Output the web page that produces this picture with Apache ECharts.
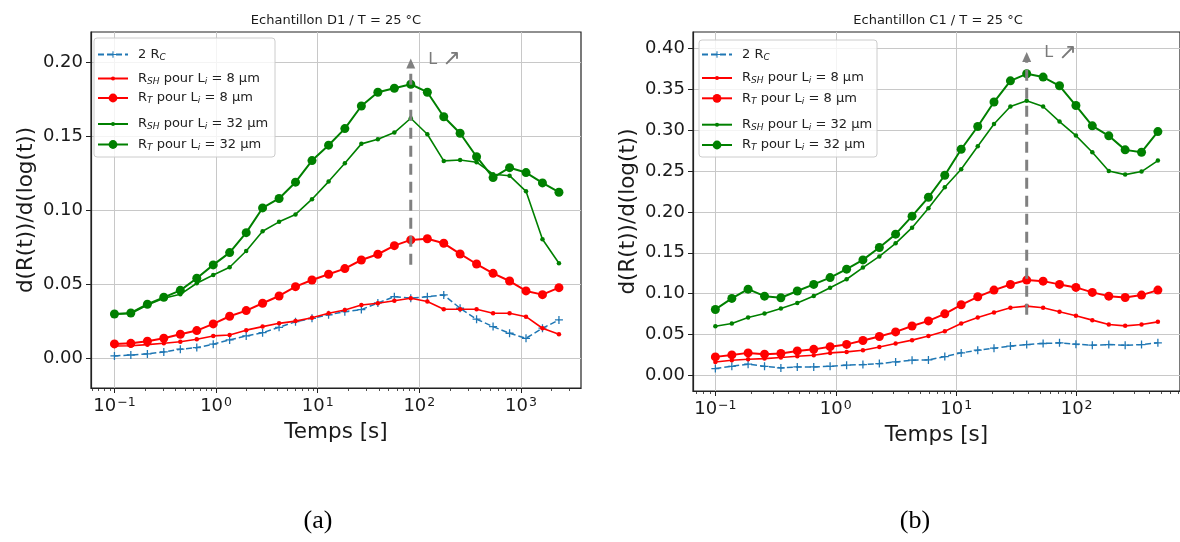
<!DOCTYPE html>
<html>
<head>
<meta charset="utf-8">
<script src="https://cdn.jsdelivr.net/npm/echarts@6/dist/echarts.min.js"></script>
<style>
html,body{margin:0;padding:0;background:#fff;}
#chart{width:1180px;height:542px;}
</style>
</head>
<body>
<div id="chart"></div>
<script>
// ---------------- DATA ----------------
// Sample D1 (a)
const tD1 = [0.1, 0.145, 0.211, 0.306, 0.445, 0.646, 0.938, 1.36, 1.98, 2.87, 4.17, 6.05, 8.79, 12.8, 18.5, 26.9, 39.1, 56.8, 82.4, 120, 174, 252, 366, 532, 773, 1122, 1629, 2366];
const rc2D1   = [0.0014, 0.0020, 0.0027, 0.0041, 0.0059, 0.0070, 0.0093, 0.0122, 0.0149, 0.0171, 0.0207, 0.0245, 0.0268, 0.0292, 0.0313, 0.0327, 0.0372, 0.0414, 0.0404, 0.0414, 0.0426, 0.0336, 0.0262, 0.0212, 0.0167, 0.0133, 0.0201, 0.0257];
const rsh8D1  = [0.0081, 0.0083, 0.0090, 0.0099, 0.0110, 0.0126, 0.0149, 0.0155, 0.0188, 0.0212, 0.0234, 0.0249, 0.0272, 0.0302, 0.0324, 0.0358, 0.0370, 0.0387, 0.0404, 0.0381, 0.0329, 0.0329, 0.0329, 0.0302, 0.0302, 0.0279, 0.0201, 0.0160];
const rt8D1   = [0.0095, 0.0099, 0.0113, 0.0133, 0.0160, 0.0185, 0.0230, 0.0282, 0.0320, 0.0370, 0.0419, 0.0482, 0.0527, 0.0566, 0.0604, 0.0662, 0.0701, 0.0759, 0.0798, 0.0806, 0.0775, 0.0703, 0.0635, 0.0572, 0.0520, 0.0453, 0.0428, 0.0475];
const rsh32D1 = [0.0295, 0.0300, 0.0358, 0.0403, 0.0430, 0.0505, 0.0561, 0.0613, 0.0723, 0.0856, 0.0920, 0.0970, 0.1073, 0.1192, 0.1316, 0.1447, 0.1478, 0.1523, 0.1620, 0.1512, 0.1332, 0.1338, 0.1323, 0.1242, 0.1232, 0.1126, 0.0802, 0.0640];
const rt32D1  = [0.0297, 0.0304, 0.0363, 0.0410, 0.0457, 0.0539, 0.0629, 0.0712, 0.0847, 0.1014, 0.1078, 0.1188, 0.1334, 0.1438, 0.1550, 0.1703, 0.1796, 0.1823, 0.1850, 0.1796, 0.1630, 0.1519, 0.1360, 0.1219, 0.1286, 0.1253, 0.1183, 0.1120];
const arrowD1 = {t: 82.4, from: 0.063, to: 0.199};

// Sample C1 (b)
const tC1 = [0.1, 0.137, 0.187, 0.256, 0.350, 0.479, 0.656, 0.897, 1.23, 1.68, 2.30, 3.14, 4.30, 5.88, 8.04, 11.0, 15.1, 20.6, 28.2, 38.5, 52.7, 72.1, 98.7, 135, 185, 253, 346, 473];
const rc2C1   = [0.0082, 0.0110, 0.0135, 0.0110, 0.0090, 0.0102, 0.0102, 0.0110, 0.0123, 0.0131, 0.0143, 0.0163, 0.0184, 0.0188, 0.0229, 0.0274, 0.0307, 0.0331, 0.0358, 0.0376, 0.0389, 0.0397, 0.0380, 0.0368, 0.0376, 0.0368, 0.0376, 0.0397];
const rsh8C1  = [0.0163, 0.0184, 0.0196, 0.0204, 0.0217, 0.0233, 0.0245, 0.0274, 0.0286, 0.0307, 0.0347, 0.0390, 0.0430, 0.0480, 0.0540, 0.0634, 0.0708, 0.0769, 0.0826, 0.0847, 0.0826, 0.0777, 0.0728, 0.0675, 0.0622, 0.0605, 0.0622, 0.0654];
const rt8C1   = [0.0225, 0.0249, 0.0274, 0.0258, 0.0266, 0.0298, 0.0317, 0.0350, 0.0378, 0.0425, 0.0475, 0.0531, 0.0603, 0.0666, 0.0752, 0.0863, 0.0961, 0.1043, 0.1112, 0.1166, 0.1153, 0.1113, 0.1076, 0.1015, 0.0969, 0.0953, 0.0982, 0.1043];
const rsh32C1 = [0.0601, 0.0634, 0.0708, 0.0757, 0.0818, 0.0884, 0.0971, 0.1071, 0.1176, 0.1319, 0.1456, 0.1616, 0.1808, 0.2045, 0.2303, 0.2524, 0.2805, 0.3078, 0.3292, 0.3362, 0.3292, 0.3108, 0.2936, 0.2732, 0.2503, 0.2458, 0.2495, 0.2630];
const rt32C1  = [0.0806, 0.0941, 0.1055, 0.0969, 0.0949, 0.1032, 0.1113, 0.1196, 0.1300, 0.1413, 0.1565, 0.1728, 0.1949, 0.2180, 0.2450, 0.2769, 0.3047, 0.3347, 0.3607, 0.3693, 0.3653, 0.3546, 0.3304, 0.3055, 0.2933, 0.2761, 0.2732, 0.2985];
const arrowC1 = {t: 38.5, from: 0.074, to: 0.390};

// Tick labels / texts
const xMajorD1 = [0.1, 1, 10, 100, 1000];
const xMajorC1 = [0.1, 1, 10, 100];
const yTicksD1 = [0, 0.05, 0.10, 0.15, 0.20];
const yTicksC1 = [0, 0.05, 0.10, 0.15, 0.20, 0.25, 0.30, 0.35, 0.40];
const titles = ['Echantillon D1 / T = 25 °C', 'Echantillon C1 / T = 25 °C'];
const captions = ['(a)', '(b)'];
const xName = 'Temps [s]';
const yName = 'd(R(t))/d(log(t))';
const legendTexts = ['2 R{s|C}', 'R{s|SH} pour L{s|i} = 8 μm', 'R{s|T} pour L{s|i} = 8 μm', 'R{s|SH} pour L{s|i} = 32 μm', 'R{s|T} pour L{s|i} = 32 μm'];
const arrowText = 'L {ar|↗}';

// ---------------- STYLE / LAYOUT ----------------
const FONT = 'DejaVu Sans';
const INK = '#1a1a1a';
const BLUE = '#1f77b4', RED = '#ff0000', GREEN = '#008000';
const PLUS = 'path://M4.2,0H5.8V4.2H10V5.8H5.8V10H4.2V5.8H0V4.2H4.2Z';

const panels = [
  {grid:{left:91, top:32, width:490, height:356}, xmin:0.0588, xmax:3900, ymin:-0.0203, ymax:0.2203,
   xMajor:xMajorD1, yTicks:yTicksD1, t:tD1, series:[rc2D1, rsh8D1, rt8D1, rsh32D1, rt32D1], arrow:arrowD1,
   title:titles[0], titleX:336, caption:captions[0], capX:318,
   legendLeft:97, legendY:[52, 74.5, 97, 120, 143.5], box:{x:94, y:38, width:181, height:119}},
  {grid:{left:693, top:32, width:490, height:359}, xmin:0.0652, xmax:722, ymin:-0.0193, ymax:0.4205,
   xMajor:xMajorC1, yTicks:yTicksC1, t:tC1, series:[rc2C1, rsh8C1, rt8C1, rsh32C1, rt32C1], arrow:arrowC1,
   title:titles[1], titleX:938, caption:captions[1], capX:915,
   legendLeft:701, legendY:[52, 74, 97.3, 120.7, 144], box:{x:699, y:40, width:178, height:117}}
];

const seriesStyles = [
  {symbol:PLUS, symbolSize:8, color:BLUE, width:1.5, type:[6,3], legendH:8},
  {symbol:'circle', symbolSize:4.5, color:RED, width:1.6, type:'solid', legendH:5},
  {symbol:'circle', symbolSize:9, color:RED, width:2, type:'solid', legendH:11},
  {symbol:'circle', symbolSize:4.5, color:GREEN, width:1.6, type:'solid', legendH:5},
  {symbol:'circle', symbolSize:9, color:GREEN, width:2, type:'solid', legendH:11}
];

function minorTicks(min, max) {
  const out = [];
  for (let e = -3; e <= 5; e++) {
    for (let k = 2; k <= 9; k++) {
      const v = k * Math.pow(10, e);
      if (v >= min && v <= max) out.push(v);
    }
  }
  return out;
}

function supLabel(v) {
  const n = Math.round(Math.log10(v));
  return '10{sup|' + String(n).replace('-', '\u2212') + '}';
}

const option = {
  animation: false,
  backgroundColor: '#ffffff',
  textStyle: {fontFamily: FONT},
  title: [], grid: [], xAxis: [], yAxis: [], legend: [], series: [], graphic: []
};

panels.forEach((p, pi) => {
  option.grid.push(Object.assign({show:true, borderColor:'#222', borderWidth:1.2, backgroundColor:'transparent'}, p.grid));
  option.title.push({text:p.title, left:p.titleX - 5, top:9, textAlign:'center',
    textStyle:{fontFamily:FONT, fontSize:13, fontWeight:'normal', color:INK}});
  option.title.push({text:p.caption, left:p.capX - 5, top:503, textAlign:'center',
    textStyle:{fontFamily:'Liberation Serif', fontSize:26, fontWeight:'normal', color:'#000'}});
  // main x axis (log)
  option.xAxis.push({
    type:'log', logBase:10, gridIndex:pi, min:p.xmin, max:p.xmax,
    axisLine:{show:true, onZero:false, lineStyle:{color:'#222', width:1.2}},
    axisTick:{show:true, customValues:p.xMajor, length:5, lineStyle:{color:'#222', width:1}},
    axisLabel:{show:true, customValues:p.xMajor, formatter:supLabel, margin:8, color:INK, fontSize:18, fontFamily:FONT,
      rich:{sup:{fontSize:12.5, color:INK, fontFamily:FONT, verticalAlign:'top', padding:[0,0,8,1]}}},
    splitLine:{show:true, lineStyle:{color:'#c8c8c8', width:1}},
    name:xName, nameLocation:'middle', nameGap:33,
    nameTextStyle:{fontSize:21.5, color:INK, fontFamily:FONT}
  });
  // minor tick x axis (log)
  option.xAxis.push({
    type:'log', logBase:10, gridIndex:pi, min:p.xmin, max:p.xmax, position:'bottom',
    axisLine:{show:false, onZero:false},
    axisTick:{show:true, customValues:minorTicks(p.xmin, p.xmax), length:3, lineStyle:{color:'#222', width:0.8}},
    axisLabel:{show:false}, splitLine:{show:false}
  });
  option.yAxis.push({
    type:'value', gridIndex:pi, min:p.ymin, max:p.ymax,
    axisLine:{show:true, onZero:false, lineStyle:{color:'#222', width:1.2}},
    axisTick:{show:true, customValues:p.yTicks, length:5, lineStyle:{color:'#222', width:1}},
    axisLabel:{show:true, customValues:p.yTicks, formatter:(v)=>v.toFixed(2), margin:8, color:INK, fontSize:18, fontFamily:FONT},
    splitLine:{show:true, lineStyle:{color:'#c8c8c8', width:1}},
    name:yName, nameLocation:'middle', nameGap:54,
    nameTextStyle:{fontSize:21.5, color:INK, fontFamily:FONT}
  });
  p.series.forEach((vals, si) => {
    const st = seriesStyles[si];
    const name = 'p' + pi + '_s' + si;
    option.series.push({
      type:'line', name:name, xAxisIndex:pi*2, yAxisIndex:pi,
      data: p.t.map((t, i) => [t, vals[i]]),
      symbol:st.symbol, symbolSize:st.symbolSize, showSymbol:true, showAllSymbol:true,
      lineStyle:{color:st.color, width:st.width, type:st.type},
      itemStyle:{color:st.color},
      emphasis:{disabled:true}, z:2 + si*0.1
    });
    option.legend.push({
      data:[name], left:p.legendLeft, top:p.legendY[si] - st.legendH/2, padding:0,
      itemWidth:30, itemHeight:st.legendH, selectedMode:false, z:10,
      formatter:() => legendTexts[si],
      textStyle:{fontFamily:FONT, fontSize:13, color:'#222', padding:[0,0,0,5],
        rich:{s:{fontSize:9, fontStyle:'italic', fontFamily:FONT, color:'#222', verticalAlign:'bottom', padding:[6,0,0,0]}}}
    });
  });
  // arrow annotation
  const a = p.arrow;
  option.series.push({
    type:'line', name:'arrow' + pi, xAxisIndex:pi*2, yAxisIndex:pi,
    data:[[a.t, a.from], [a.t, a.to]], symbol:'none',
    lineStyle:{color:'#808080', width:3, type:[11,7]}, emphasis:{disabled:true}, z:3,
    markPoint:{silent:true, data:[{coord:[a.t, a.to], symbol:'triangle', symbolSize:[9,10],
      itemStyle:{color:'#808080'},
      label:{show:true, formatter:arrowText, position:'right', distance:13, offset:[0,-4],
        color:'#7a7a7a', fontSize:16, fontFamily:FONT,
        rich:{ar:{fontSize:22, color:'#7a7a7a', fontFamily:FONT}}}}]}
  });
  option.graphic.push({type:'rect', z:5, silent:true, shape:Object.assign({r:3}, p.box),
    style:{fill:'rgba(255,255,255,0.8)', stroke:'#cccccc', lineWidth:1}});
});

const chart = echarts.init(document.getElementById('chart'), null, {renderer:'canvas'});
chart.setOption(option);
</script>
</body>
</html>
